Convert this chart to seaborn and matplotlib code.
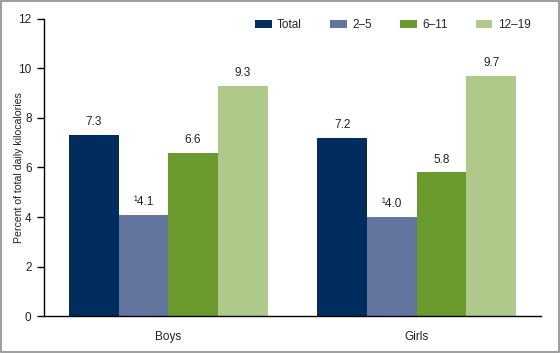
import pandas as pd
import matplotlib
matplotlib.use("Agg")
import matplotlib.pyplot as plt
import seaborn as sns

# ── Data ────────────────────────────────────────────────
sexes = ["Boys", "Girls"]
age_groups = ["Total", "2–5", "6–11", "12–19"]
boys_vals = [7.3, 4.1, 6.6, 9.3]
girls_vals = [7.2, 4.0, 5.8, 9.7]
flagged = {"2–5"}  # shown with superscript 1
colors = ["#002D5D", "#6276A0", "#6B9A2F", "#AFC98B"]

df = pd.DataFrame({
    "Sex": [s for s in sexes for _ in age_groups],
    "Age": age_groups * 2,
    "Value": boys_vals + girls_vals,
})

sns.set_style("white")
plt.rcParams["font.family"] = ["Liberation Sans", "DejaVu Sans"]
FS = 8.5
TXT = "#222222"

fig = plt.figure(figsize=(5.6, 3.53), dpi=100)
ax = fig.add_axes([0.0786, 0.1048, 0.8875, 0.8414])

sns.barplot(data=df, x="Sex", y="Value", hue="Age", hue_order=age_groups,
            palette=colors, width=0.8, saturation=1, ax=ax, errorbar=None,
            linewidth=0)

# value labels
for cont, age in zip(ax.containers, age_groups):
    labels = []
    for bar in cont:
        v = bar.get_height()
        labels.append(("¹" if age in flagged else "") + f"{v:.1f}")
    ax.bar_label(cont, labels=labels, padding=5, fontsize=FS, color=TXT)

ax.set_xlim(-0.5, 1.5)
ax.set_ylim(0, 12)
ax.set_yticks(range(0, 13, 2))
ax.set_xlabel("")
ax.set_ylabel("Percent of total daily kilocalories", fontsize=7.6, color=TXT)
ax.yaxis.set_label_coords(-0.040, 0.5)
ax.tick_params(axis="y", direction="out", length=5, width=1, color="black",
               labelsize=FS, labelcolor=TXT, left=True, pad=4)
ax.tick_params(axis="x", length=0, labelsize=FS, labelcolor=TXT, pad=11)

for side in ["top", "right"]:
    ax.spines[side].set_visible(False)
for side in ["left", "bottom"]:
    ax.spines[side].set_color("black")
    ax.spines[side].set_linewidth(1)

ax.legend(ncol=4, loc="upper right", bbox_to_anchor=(1.0, 1.035), frameon=False,
          fontsize=FS, handlelength=1.4, handleheight=0.6, columnspacing=2.4,
          handletextpad=0.45)

# gray frame around figure
fig.patches.append(plt.Rectangle((0.002, 0.003), 0.996, 0.994, transform=fig.transFigure,
                                 fill=False, edgecolor="#8c8c8c", linewidth=1.2))

plt.savefig("out.png", dpi=100)
plt.close()
